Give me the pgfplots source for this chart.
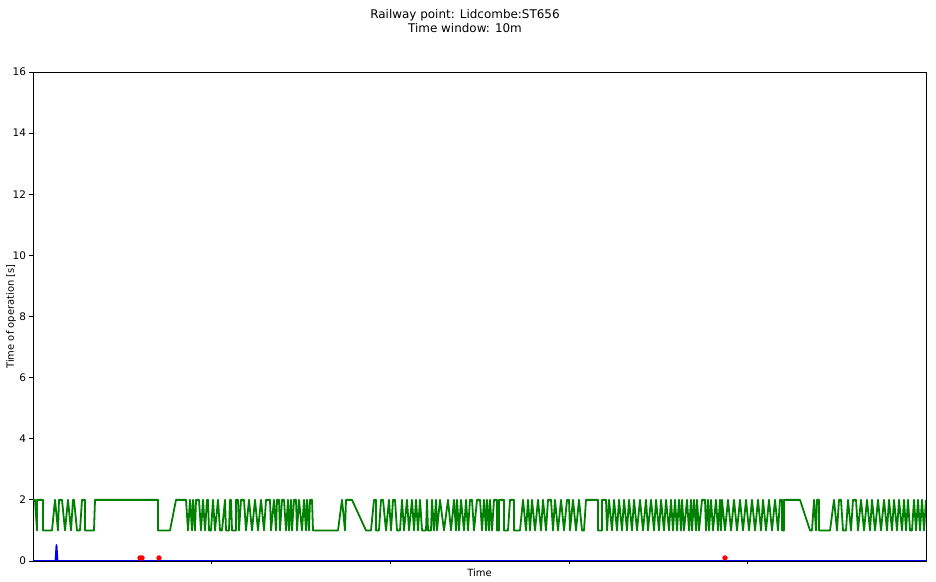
\documentclass[border=0pt]{standalone}
\usepackage{pgfplots}
\pgfplotsset{compat=1.18}
\usepackage{fontspec}
\setmainfont{DejaVu Sans}
\definecolor{mplgreen}{RGB}{0,128,0}
\definecolor{mplblue}{RGB}{0,0,255}
\definecolor{mplred}{RGB}{255,0,0}
\begin{document}
\begin{tikzpicture}
\useasboundingbox (0,0) rectangle (936bp,582bp);
\node[font=\fontsize{12}{14.5}\selectfont, align=center] at (465bp,561bp) {Railway point: Lidcombe:ST656\\Time window: 10m};
\begin{axis}[
  at={(33bp,21bp)}, anchor=south west,
  scale only axis, width=893bp, height=489bp,
  xmin=33, xmax=926, ymin=0, ymax=16,
  xtick={211,390,569,747}, xticklabels={},
  ytick={0,2,...,16},
  tick align=outside, xtick pos=left, ytick pos=left,
  major tick length=3.5bp,
  axis line style={line width=0.8bp},
  every tick/.style={black, line width=0.8bp},
  /pgf/number format/assume math mode=true,
  tick label style={font=\fontsize{10.5}{12}\selectfont},
  label style={font=\fontsize{10}{12}\selectfont},
  xlabel={Time}, ylabel={Time of operation [s]},
  xlabel style={yshift=6bp},
  ylabel style={yshift=-10bp},
  clip=true,
]
\addplot[mplgreen, line width=1.8bp, line join=round] coordinates {
(33,2)(35,2)(37,1)(37,2)(43,2)(43,1)(52,1)(55,2)(58,1)(59,2)(62,2)(65,1)(68,2)(71,1)(73,2)(74,2)(77,1)(80,1)(82,2)(85,2)(85,1)(94,1)(95,2)(158,2)(158,1)(170,1)(176,2)
(186,2)(188,1)(190,2)(192,1)(193,2)(195,1)(196,2)(199,2)(201,1)(203,2)(205,1)(207,2)(208,2)(209,1)(211,1)(213,2)(215,1)(218,2)(220,1)(222,1)(225,2)(226,1)(229,1)(230,2)(231,2)(232,1)(236,1)(236,2)(238,2)(239,1)(241,2)(244,2)(246,1)(249,2)(252,1)(255,2)(258,1)(261,2)(264,1)(266,2)(270,2)(271,1)(274,2)(276,1)(277,2)(279,2)(280,1)(282,2)(284,2)(286,1)
(288,2)(289,1)(291,2)(292,1)(294,2)(296,2)(297,1)(299,2)(302,1)(304,2)(306,1)(307,2)(309,1)(310,2)(312,2)(313,1)(338,1)(342,2)(345,1)(346,2)(352,2)(366,1)(371,1)(374,2)(376,2)(376,1)(379,1)(381,2)(383,2)(386,1)(389,2)(391,1)(393,2)(395,2)(397,1)(400,1)(402,2)(404,1)(407,2)(409,1)(412,2)(414,1)(416,2)
(418,1)(420,2)(422,1)(426,1)(427,2)(428,1)(431,1)(432,2)(434,1)(436,2)(437,1)(440,2)(444,1)(448,2)(451,1)(454,2)(456,1)(457,2)(459,1)(461,2)(464,1)(466,2)(468,1)(470,2)(472,2)(474,1)(477,2)(480,2)(482,1)(484,2)(486,1)(487,2)(489,1)(490,2)(492,1)(494,2)(497,2)(497,1)(499,1)(499,2)(504,2)(504,1)(508,1)(510,2)(514,2)(514,1)(520,1)(523,2)(526,1)(528,2)(530,1)(532,2)(535,1)(538,2)(541,1)(543,2)
(546,1)(548,2)(551,2)(553,1)(555,2)(558,1)(561,2)(564,1)(567,2)(569,2)(570,1)(573,2)(576,1)(579,2)(582,1)(584,1)(586,2)(598,2)(598,1)(602,1)(602,2)(606,2)(607,1)(609,2)(612,1)(614,2)(617,1)(619,2)(622,1)(624,2)(627,1)(629,2)(632,1)(634,2)(637,1)(640,2)(643,1)(646,2)(648,1)(651,2)(654,1)(656,2)(659,1)(661,2)(664,1)(666,2)(669,1)(671,2)
(673,1)(675,2)(677,1)(679,2)(681,1)(682,2)(684,1)(687,2)(689,1)(691,2)(692,1)(694,2)(696,1)(697,2)(699,1)(702,2)(705,2)(706,1)(708,2)(709,1)(711,2)(713,1)(716,2)(718,1)(720,2)(721,1)(722,2)(725,1)(728,2)(731,1)(734,2)(737,1)(740,2)(743,1)(746,2)(749,1)(752,2)(755,1)(758,2)(761,1)(763,2)(766,1)(769,2)(772,1)(775,2)(778,1)(780,2)(782,2)(782,1)(784,1)(784,2)(800,2)
(810,1)(812,1)(814,2)(816,1)(817,2)(819,2)(819,1)(830,1)(834,2)(837,1)(839,2)(841,2)(843,1)(846,1)(848,2)(851,1)(853,2)(856,2)(858,1)(861,2)(864,1)(867,2)(870,1)(872,2)(875,1)(878,2)(881,1)(884,2)(887,1)(889,2)(892,1)(894,2)(897,1)(899,2)(902,1)(904,2)(906,1)(908,2)(910,1)(912,1)(914,2)(916,1)(918,2)(920,1)(922,2)(924,1)(926,2)
};
\addplot[mplblue, line width=1.8bp, line join=round] coordinates {
(33,0)(55.5,0)(56.5,0.52)(57.5,0)(926,0)
};
\addplot[only marks, mark=*, mark size=2.4bp, mplred, mark options={draw=mplred, fill=mplred}] coordinates {
(140,0.1)(142,0.1)(159,0.1)(725,0.1)
};
\end{axis}
\end{tikzpicture}
\end{document}
